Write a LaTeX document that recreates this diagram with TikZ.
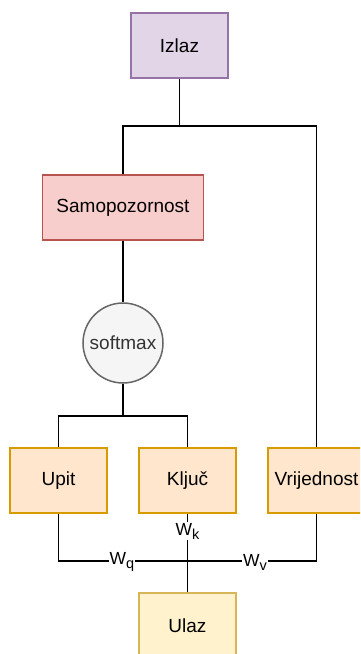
\documentclass[tikz,border=0pt]{standalone}
\usepackage{fontspec}
\setmainfont{Liberation Sans}
\definecolor{pfill}{HTML}{E1D5E7}\definecolor{pdraw}{HTML}{9673A6}
\definecolor{rfill}{HTML}{F8CECC}\definecolor{rdraw}{HTML}{B85450}
\definecolor{ofill}{HTML}{FFE6CC}\definecolor{odraw}{HTML}{D79B00}
\definecolor{yfill}{HTML}{FFF2CC}\definecolor{ydraw}{HTML}{D6B656}
\definecolor{gfill}{HTML}{F5F5F5}\definecolor{gdraw}{HTML}{666666}
\definecolor{gtext}{HTML}{333333}
\newcommand{\mysub}[1]{\raisebox{-4pt}{\fontsize{14.5}{16}\selectfont #1}}
\tikzset{
  box/.style={rectangle, minimum width=97pt, minimum height=65pt, line width=1.5pt, inner sep=0pt, font=\fontsize{19}{22}\selectfont},
  conn/.style={line width=1.7pt, black},
  lbl/.style={fill=white, inner sep=1pt, font=\fontsize{17.5}{20}\selectfont}
}
\begin{document}
\begin{tikzpicture}[x=1pt,y=-1pt]
\useasboundingbox (0,0) rectangle (360,654);
\begin{scope}
\clip (0,0) rectangle (360,654);
\node[box, fill=pfill, draw=pdraw] (izlaz) at (179.5,45.5) {Izlaz};
\node[box, fill=rfill, draw=rdraw, minimum width=161pt] (samo) at (123,207.5) {Samopozornost};
\node[circle, minimum size=80pt, inner sep=0pt, fill=gfill, draw=gdraw, line width=1.5pt, text=gtext, font=\fontsize{19}{22}\selectfont] (soft) at (123,343) {softmax};
\node[box, fill=ofill, draw=odraw] (upit) at (58.5,480.5) {Upit};
\node[box, fill=ofill, draw=odraw] (kljuc) at (187.5,480.5) {Ključ};
\node[box, fill=ofill, draw=odraw] (vrij) at (316.5,480.5) {Vrijednost};
\node[box, fill=yfill, draw=ydraw] (ulaz) at (187.5,625.5) {Ulaz};

\coordinate (top) at (179.5,126);
\coordinate (mid) at (123,416);
\coordinate (bot) at (187.5,561);

\draw[conn] (izlaz.south) -- (top);
\draw[conn] (top) -| (samo.north);
\draw[conn] (top) -| (vrij.north);
\draw[conn] (samo.south) -- (soft.north);
\draw[conn] (soft.south) -- (mid);
\draw[conn] (mid) -| (upit.north);
\draw[conn] (mid) -| (kljuc.north);
\draw[conn] (upit.south) |- (bot);
\draw[conn] (bot) -| (vrij.south);
\draw[conn] (ulaz.north) -- (kljuc.south);

\node[lbl] (wq) at (122,562) {W\mysub{q}};
\node[lbl] (wv) at (255,562) {W\mysub{v}};
\node[lbl] (wk) at (187.5,531) {W\mysub{k}};
\end{scope}
\end{tikzpicture}
\end{document}
